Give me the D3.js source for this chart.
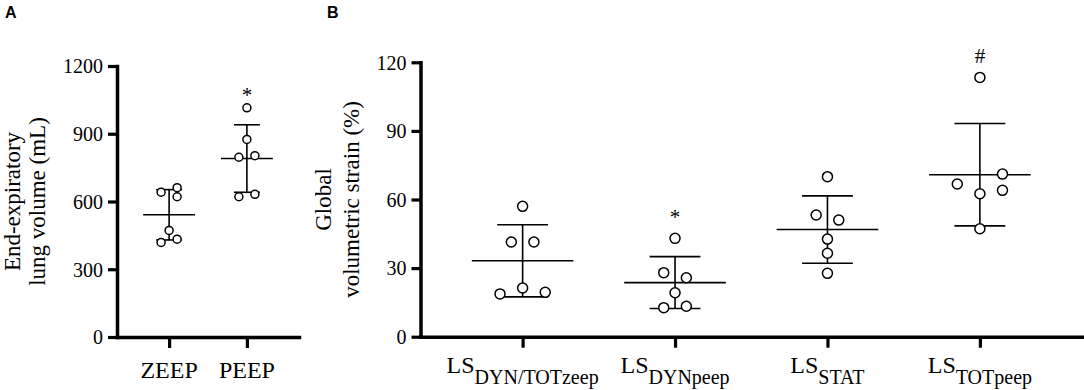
<!DOCTYPE html>
<html>
<head>
<meta charset="utf-8">
<script src="https://cdn.jsdelivr.net/npm/d3@7"></script>
<style>
  body { margin: 0; background: #fff; }
  svg { display: block; background: #fff; }
  text { font-family: "Liberation Serif", "Times New Roman", serif; fill: #000; }
  .panel-label { font-family: "Liberation Sans", Arial, sans-serif; font-weight: bold; font-size: 16px; }
</style>
</head>
<body>
<svg id="chart" width="1084" height="390"></svg>
<script>
// ---- panel A : end-expiratory lung volume (mL), one value per animal
const volGroups = ["ZEEP", "PEEP"]
const volZeep = [661, 641, 621, 472, 433, 419]
const volPeep = [1015, 875, 803, 796, 632, 621]
const volSig = ["", "*"]
const volTicks = [0, 300, 600, 900, 1200]

// ---- panel B : global volumetric strain (%)
const strainGroups = ["LS_DYN/TOTzeep", "LS_DYNpeep", "LS_STAT", "LS_TOTpeep"]
const strainMain = ["LS", "LS", "LS", "LS"]
const strainSub = ["DYN/TOTzeep", "DYNpeep", "STAT", "TOTpeep"]
const strainDynTotZeep = [57.0, 41.4, 41.4, 19.4, 21.3, 18.7]
const strainDynPeep = [43.0, 25.8, 28.0, 19.2, 13.3, 12.7]
const strainStat = [70.0, 51.0, 53.2, 42.7, 36.5, 27.7]
const strainTotPeep = [113.4, 64.0, 62.5, 66.8, 71.1, 47.2]
const strainSig = ["", "*", "", "#"]
const strainTicks = [0, 30, 60, 90, 120]

const serif = '"Liberation Serif", "Times New Roman", serif'

var svg = d3.select("#chart")

// points that would overlap get pushed sideways, like a column scatter plot
function spread(values, y, gap) {
    var slot = values.map(() => 0)
    var order = d3.range(values.length).sort((a, b) => values[a] - values[b])
    var chains = [], cur = [order[0]]
    for (var i = 1; i < order.length; i++) {
        if (Math.abs(y(values[order[i]]) - y(values[order[i - 1]])) < gap) cur.push(order[i])
        else { chains.push(cur); cur = [order[i]] }
    }
    chains.push(cur)
    chains.forEach(ch => {
        var k = d3.max(ch, a => ch.filter(b => values[b] >= values[a] && Math.abs(y(values[b]) - y(values[a])) < gap).length)
        var pattern = k === 1 ? [0] : k === 2 ? [1, -1] : [2, 0, -2]
        ch.slice().sort((a, b) => a - b).forEach((idx, j) => { slot[idx] = pattern[j % pattern.length] })
    })
    return slot
}

function drawPanel(opt) {
    var g = svg.append("g")

    var x = d3.scalePoint().domain(opt.groups).range([opt.left, opt.right]).padding(0.67)
    var y = d3.scaleLinear().domain([0, opt.max]).range([opt.bottom, opt.top])
    var step = x.step()

    // axes
    var yAxis = g.append("g")
        .attr("transform", "translate(" + opt.left + ",0)")
        .call(d3.axisLeft(y).tickValues(opt.ticks).tickFormat(d3.format("d"))
            .tickSize(9).tickSizeOuter(0).tickPadding(5))
    var xAxis = g.append("g")
        .attr("transform", "translate(0," + opt.bottom + ")")
        .call(d3.axisBottom(x).tickSize(11).tickSizeOuter(0).tickFormat(""))
    ;[yAxis, xAxis].forEach(a => {
        a.select(".domain").attr("stroke-width", 3.5).attr("stroke-linecap", "square")
        a.selectAll(".tick line").attr("stroke-width", 3.2)
    })
    yAxis.selectAll(".tick text")
        .style("font-family", serif)
        .style("font-size", "20px")
        .attr("dy", "0.34em")

    // category labels
    opt.groups.forEach((grp, i) => {
        var t = g.append("text")
            .attr("x", x(grp)).attr("y", opt.bottom + opt.labelDy)
            .attr("text-anchor", "middle").attr("font-size", 24)
        t.append("tspan").text(opt.main[i])
        if (opt.sub) t.append("tspan").attr("dy", 11).attr("font-size", 20).text(opt.sub[i])
    })

    // y title, two lines
    opt.title.forEach((line, i) => {
        g.append("text")
            .attr("transform", "translate(" + opt.titleX[i] + "," + (opt.top + opt.bottom) / 2 + ") rotate(-90)")
            .attr("text-anchor", "middle").attr("font-size", 23)
            .text(line)
    })

    g.append("text").attr("class", "panel-label")
        .attr("x", opt.labelX).attr("y", 18).text(opt.panel)

    opt.groups.forEach((grp, i) => {
        var vals = opt.series[i]
        var cx = x(grp)
        var m = d3.mean(vals), sd = d3.deviation(vals)
        var lines = [
            [cx - step / 3, y(m), cx + step / 3, y(m)],
            [cx - step / 6, y(m + sd), cx + step / 6, y(m + sd)],
            [cx - step / 6, y(m - sd), cx + step / 6, y(m - sd)],
            [cx, y(m + sd), cx, y(m - sd)]
        ]
        g.selectAll(null).data(lines).enter().append("line")
            .attr("x1", d => d[0]).attr("y1", d => d[1])
            .attr("x2", d => d[2]).attr("y2", d => d[3])
            .attr("stroke", "#000").attr("stroke-width", 1.6)

        var slot = spread(vals, y, opt.r * 2 + 0.6)
        g.selectAll(null).data(vals).enter().append("circle")
            .attr("cx", (d, j) => cx + slot[j] * opt.spacing)
            .attr("cy", d => y(d))
            .attr("r", opt.r)
            .attr("fill", "#fff").attr("stroke", "#000").attr("stroke-width", 1.5)

        if (opt.sig[i]) {
            g.append("text")
                .attr("x", cx).attr("y", y(d3.max(vals)) - opt.sigDy)
                .attr("text-anchor", "middle").attr("font-size", 21)
                .text(opt.sig[i])
        }
    })
}

drawPanel({
    panel: "A", labelX: 5,
    groups: volGroups, main: volGroups, sub: null,
    series: [volZeep, volPeep], sig: volSig,
    ticks: volTicks, max: 1200,
    left: 117, right: 299, top: 66, bottom: 337,
    r: 4, spacing: 8, sigDy: 6, labelDy: 41,
    title: ["End-expiratory", "lung volume (mL)"], titleX: [19.5, 44.5]
})

drawPanel({
    panel: "B", labelX: 327,
    groups: strainGroups, main: strainMain, sub: strainSub,
    series: [strainDynTotZeep, strainDynPeep, strainStat, strainTotPeep], sig: strainSig,
    ticks: strainTicks, max: 120,
    left: 420.5, right: 1082, top: 62.3, bottom: 336.7,
    r: 5, spacing: 11.3, sigDy: 14.5, labelDy: 36.5,
    title: ["Global", "volumetric strain (%)"], titleX: [331, 359]
})
</script>
</body>
</html>
